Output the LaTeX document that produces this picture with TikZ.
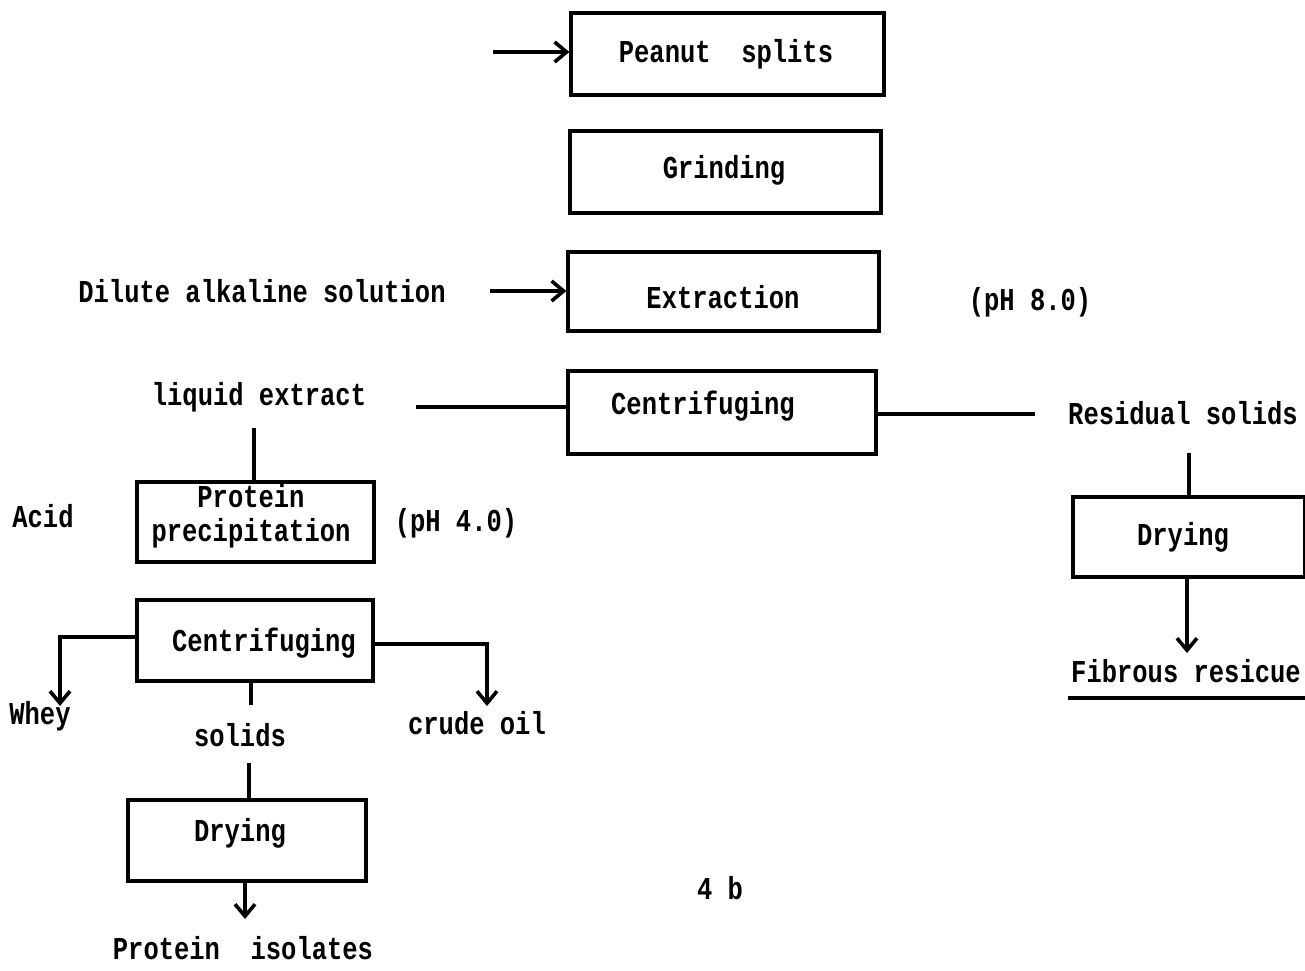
\documentclass[tikz,border=0pt]{standalone}
\usepackage{fontspec}
\usepackage{graphicx}
\setmonofont{Liberation Mono}
\usetikzlibrary{arrows.meta}
% typewriter letters are taller than Courier's
\newcommand\tyw[1]{\scalebox{1}[1.25]{#1}}
\begin{document}
\begin{tikzpicture}[x=1pt,y=-1pt,
  every node/.style={font=\ttfamily\bfseries\fontsize{25.5}{30}\selectfont, inner sep=0pt},
  stepbox/.style={draw, line width=3.2pt, minimum width=#1},
  stepbox/.default=310pt,
  line/.style={line width=3.2pt},
  arr/.style={line width=3.2pt, -{Straight Barb[length=12pt,width=20pt,line width=3.6pt]}}]
\useasboundingbox (0,0) rectangle (1305,970);

% main column
\node[stepbox=313pt, minimum height=82pt] (peanut) at (727.5,54) {};
\node (peanutt) at (726,54) {\tyw{Peanut\ \ splits}};
\node[stepbox=311pt, minimum height=82pt] (grind) at (725.5,172) {};
\node (grindt) at (724,170) {\tyw{Grinding}};
\node[stepbox=311pt, minimum height=79pt] (extr) at (723.5,291.5) {};
\node (extrt) at (723,297) {\tyw{Extraction}};
\node[stepbox=308pt, minimum height=83pt] (cent) at (722,412.5) {};
\node (centt) at (703,406) {\tyw{Centrifuging}};

\coordinate (feed) at (493,52);
\draw[arr] (feed) -- (peanut.west |- feed);

\node (dilute) at (262,291) {\tyw{Dilute alkaline solution}};
\coordinate (alk) at (490,291);
\draw[arr] (alk) -- (extr.west |- alk);
\node (ph8) at (1030,302) {\tyw{(pH 8.0)}};

% liquid branch
\node (liq) at (259,397) {\tyw{liquid extract}};
\coordinate (liqend) at (416,407);
\draw[line] (cent.west |- liqend) -- (liqend);
\coordinate (liqdown) at (254,428);

\node[stepbox=237pt, minimum height=80pt] (prec) at (255.5,522) {};
\node[align=center, font=\ttfamily\bfseries\fontsize{25.5}{34}\selectfont] (prect) at (251,516) {\tyw{Protein}\\\tyw{precipitation}};
\draw[line] (liqdown) -- (liqdown |- prec.north);
\node (acid) at (43,516) {\tyw{Acid}};
\node (ph4) at (456,523) {\tyw{(pH 4.0)}};

\node[stepbox=236pt, minimum height=81pt] (cent2) at (255,640.5) {};
\node (cent2t) at (264,643) {\tyw{Centrifuging}};

\coordinate (wheyend) at (60,706);
\draw[arr] (cent2.west |- 0,637) -| (wheyend);
\node (whey) at (40,716) {\tyw{Whey}};
\coordinate (oilend) at (487,706);
\draw[arr] (cent2.east |- 0,644) -| (oilend);
\node (oil) at (477,723) {\tyw{crude oil}};

\coordinate (solup) at (251,705);
\draw[line] (solup |- cent2.south) -- (solup);
\node (solids) at (240,735) {\tyw{solids}};
\coordinate (soldown) at (249,763);

\node[stepbox=238pt, minimum height=81pt] (dry1) at (247,840.5) {};
\node (dry1t) at (240,833) {\tyw{Drying}};
\draw[line] (soldown) -- (soldown |- dry1.north);
\coordinate (isoend) at (245,919);
\draw[arr] (isoend |- dry1.south) -- (isoend);
\node (iso) at (243,948) {\tyw{Protein\ \ isolates}};

% solids branch
\node (resid) at (1183,413) {\tyw{Residual solids}};
\coordinate (resend) at (1035,414);
\draw[line] (cent.east |- resend) -- (resend);
\coordinate (resdown) at (1189,453);
\node[stepbox=232pt, minimum height=80pt] (dry2) at (1189,537) {};
\node (dry2t) at (1183,537) {\tyw{Drying}};
\draw[line] (resdown) -- (resdown |- dry2.north);
\coordinate (fibend) at (1187,653);
\draw[arr] (fibend |- dry2.south) -- (fibend);
\node (fib) at (1186,671) {\tyw{Fibrous resicue}};
\coordinate (ulL) at (1068,698);
\coordinate (ulR) at (1305,698);
\draw[line] (ulL) -- (ulR);

\node (fig) at (720,888) {\tyw{4 b}};
\end{tikzpicture}
\end{document}
